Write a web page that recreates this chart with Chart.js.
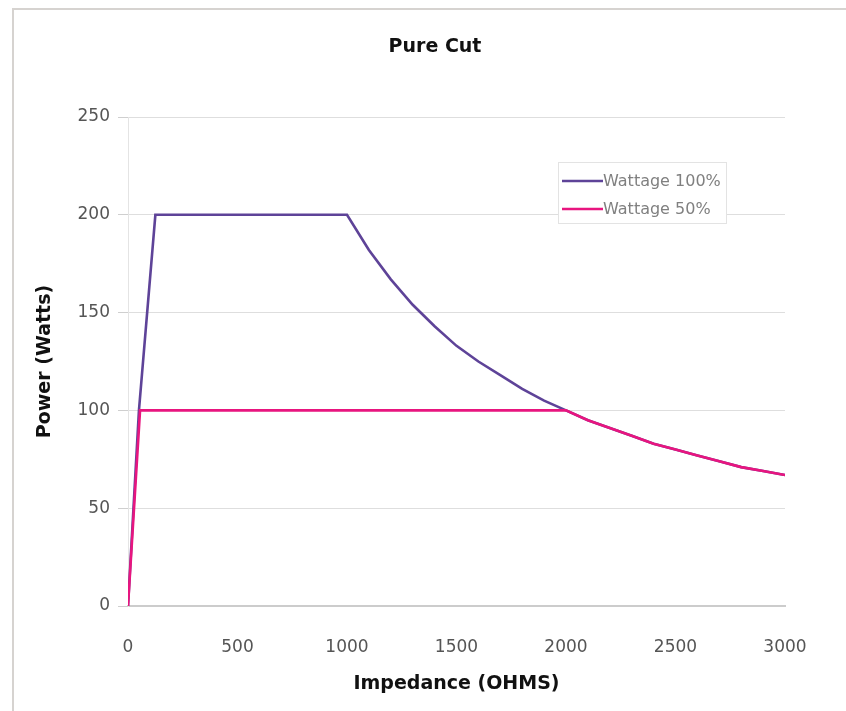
<!DOCTYPE html>
<html>
<head>
<meta charset="utf-8">
<script src="https://cdn.jsdelivr.net/npm/chart.js@4/dist/chart.umd.min.js"></script>
<style>
  html, body { margin: 0; padding: 0; background: #fff; }
  #wrap { position: relative; width: 846px; height: 711px; }
  #frame { position: absolute; left: 12px; top: 8px; right: 0; bottom: 0;
           border-left: 2px solid #d6d3d0; border-top: 2px solid #d6d3d0; pointer-events: none; }
  canvas { position: absolute; left: 0; top: 0; }
</style>
</head>
<body>
<div id="wrap">
  <canvas id="c" width="846" height="711"></canvas>
  <div id="frame"></div>
</div>
<script>
const chartTitle = "Pure Cut";
const xAxisTitle = "Impedance (OHMS)";
const yAxisTitle = "Power (Watts)";
const seriesNames = ["Wattage 100%", "Wattage 50%"];

const impedance100 = [0, 50, 125, 1000, 1100, 1200, 1300, 1400, 1500, 1600, 1700, 1800, 1900, 2000, 2100, 2200, 2300, 2400, 2500, 2600, 2700, 2800, 2900, 3000];
const watts100     = [0, 100, 200, 200, 182, 167, 154, 143, 133, 125, 118, 111, 105, 100, 95, 91, 87, 83, 80, 77, 74, 71, 69, 67];

const impedance50  = [0, 55, 2000, 2100, 2200, 2300, 2400, 2500, 2600, 2700, 2800, 2900, 3000];
const watts50      = [0, 100, 100, 95, 91, 87, 83, 80, 77, 74, 71, 69, 67];

const xTicks = [0, 500, 1000, 1500, 2000, 2500, 3000];
const yTicks = [0, 50, 100, 150, 200, 250];

const colors = ["#5e4398", "#e8157f"];

function pts(xs, ys) { return xs.map((x, i) => ({ x: x, y: ys[i] })); }

const FONT = '"DejaVu Sans", Verdana, sans-serif';

const extras = {
  id: 'extras',
  afterDraw(chart) {
    const ctx = chart.ctx;
    ctx.save();
    // title
    ctx.fillStyle = '#111';
    ctx.font = 'bold 19px ' + FONT;
    ctx.textAlign = 'center';
    ctx.textBaseline = 'alphabetic';
    ctx.fillText(chartTitle, 435, 52);
    // legend inside plot
    const bx = 558, by = 162, bw = 168, bh = 61;
    ctx.textAlign = 'left';
    ctx.textBaseline = 'middle';
    ctx.fillStyle = '#ffffff';
    ctx.fillRect(bx, by, bw, bh);
    ctx.strokeStyle = '#e3e3e3';
    ctx.lineWidth = 1;
    ctx.strokeRect(bx + 0.5, by + 0.5, bw, bh);
    ctx.font = '16px ' + FONT;
    [0, 1].forEach((i, k) => {
      const ds = chart.data.datasets[i];
      const y = by + 19 + k * 28;
      ctx.strokeStyle = ds.borderColor;
      ctx.lineWidth = 2.5;
      ctx.beginPath();
      ctx.moveTo(bx + 4, y);
      ctx.lineTo(bx + 45, y);
      ctx.stroke();
      ctx.fillStyle = '#808080';
      ctx.fillText(ds.label, bx + 45, y + 1);
    });
    ctx.restore();
  }
};

new Chart(document.getElementById('c'), {
  type: 'scatter',
  data: {
    datasets: [
      { label: seriesNames[0], data: pts(impedance100, watts100), showLine: true, order: 2,
        borderColor: colors[0], backgroundColor: colors[0], borderWidth: 2.6,
        pointRadius: 0, tension: 0 },
      { label: seriesNames[1], data: pts(impedance50, watts50), showLine: true, order: 1,
        borderColor: colors[1], backgroundColor: colors[1], borderWidth: 2.6,
        pointRadius: 0, tension: 0 }
    ]
  },
  options: {
    responsive: false,
    animation: false,
    layout: { padding: { left: 0, right: 61, top: 117, bottom: 0 } },
    plugins: {
      legend: { display: false },
      tooltip: { enabled: false },
      title: { display: false }
    },
    scales: {
      x: {
        type: 'linear', min: 0, max: 3000,
        afterBuildTicks: (s) => { s.ticks = xTicks.map(v => ({ value: v })); },
        afterFit: (s) => { s.height = 105; },
        grid: { display: false },
        border: { display: true, color: '#cccccc', width: 2 },
        ticks: { color: '#555', padding: 23, callback: (v) => String(v),
                 font: { family: FONT, size: 17 } },
        title: { display: true, text: xAxisTitle, color: '#111',
                 font: { family: FONT, size: 19, weight: 'bold' },
                 padding: { top: 8, bottom: 16 } }
      },
      y: {
        type: 'linear', min: 0, max: 250,
        afterBuildTicks: (s) => { s.ticks = yTicks.map(v => ({ value: v })); },
        afterFit: (s) => { s.width = 128; },
        grid: { color: '#dedede', lineWidth: 1, tickLength: 10, drawTicks: true, tickColor: '#cfcfcf' },
        border: { display: true, color: '#e4e4e4', width: 1 },
        ticks: { color: '#555', padding: 8, callback: (v) => String(v),
                 font: { family: FONT, size: 17 } },
        title: { display: true, text: yAxisTitle, color: '#111',
                 font: { family: FONT, size: 19, weight: 'bold' },
                 padding: { top: 34, bottom: 0 } }
      }
    }
  },
  plugins: [extras]
});
</script>
</body>
</html>
